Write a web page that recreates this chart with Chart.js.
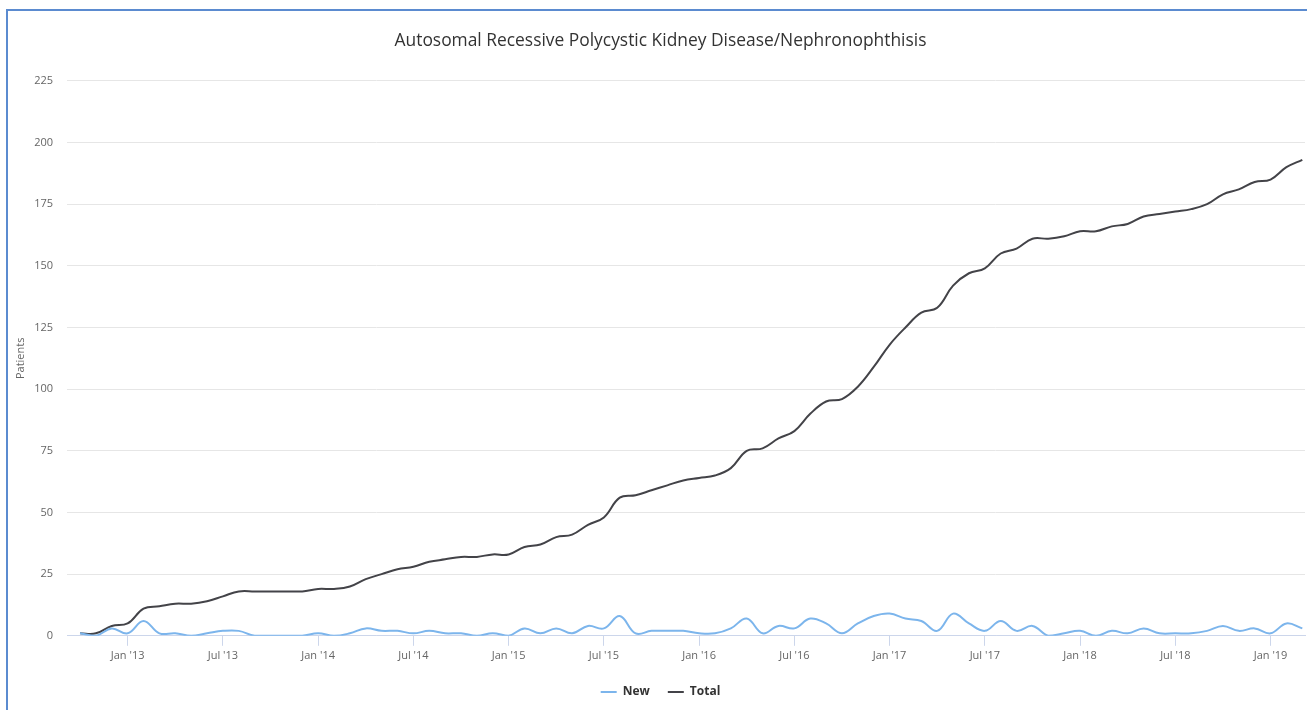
<!DOCTYPE html>
<html>
<head>
<meta charset="utf-8">
<script src="https://cdn.jsdelivr.net/npm/chart.js@4/dist/chart.umd.min.js"></script>
<style>
  html, body { margin: 0; padding: 0; background: #fff; }
  #wrap { position: relative; width: 1307px; height: 710px; }
  #frame {
    position: absolute; left: 6px; top: 9px; right: 0; bottom: 0;
    border-left: 2px solid #5b8bd0; border-top: 2px solid #5b8bd0;
    pointer-events: none;
  }
</style>
</head>
<body>
<div id="wrap">
  <canvas id="myChart" width="1307" height="710"></canvas>
  <div id="frame"></div>
</div>
<script>
// monthly counts, Oct 2012 .. Mar 2019 (index 0 = Oct 2012)
const newPatients = [
  1, 0, 3, 1, 6, 1, 1, 0, 1, 2,
  2, 0, 0, 0, 0, 1, 0, 1, 3, 2,
  2, 1, 2, 1, 1, 0, 1, 0, 3, 1,
  3, 1, 4, 3, 8, 1, 2, 2, 2, 1,
  1, 3, 7, 1, 4, 3, 7, 5, 1, 5,
  8, 9, 7, 6, 2, 9, 5, 2, 6, 2,
  4, 0, 1, 2, 0, 2, 1, 3, 1, 1,
  1, 2, 4, 2, 3, 1, 5, 3
];
const totalPatients = [
  1, 1, 4, 5, 11, 12, 13, 13, 14, 16,
  18, 18, 18, 18, 18, 19, 19, 20, 23, 25,
  27, 28, 30, 31, 32, 32, 33, 33, 36, 37,
  40, 41, 45, 48, 56, 57, 59, 61, 63, 64,
  65, 68, 75, 76, 80, 83, 90, 95, 96, 101,
  109, 118, 125, 131, 133, 142, 147, 149, 155, 157,
  161, 161, 162, 164, 164, 166, 167, 170, 171, 172,
  173, 175, 179, 181, 184, 185, 190, 193
];
const tickMonths = [3, 9, 15, 21, 27, 33, 39, 45, 51, 57, 63, 69, 75];
const tickLabels = ["Jan '13", "Jul '13", "Jan '14", "Jul '14", "Jan '15", "Jul '15",
  "Jan '16", "Jul '16", "Jan '17", "Jul '17", "Jan '18", "Jul '18", "Jan '19"];

Chart.defaults.font.family = "'Open Sans', sans-serif";
Chart.defaults.color = "#666";

const toPoints = arr => arr.map((v, i) => ({ x: i, y: v }));

const data = {
  datasets: [
    {
      label: "New",
      data: toPoints(newPatients),
      borderColor: "#7cb5ec",
      backgroundColor: "#7cb5ec",
      borderWidth: 2,
      pointRadius: 0,
      tension: 0.4,
      fill: false
    },
    {
      label: "Total",
      data: toPoints(totalPatients),
      borderColor: "#434348",
      backgroundColor: "#434348",
      borderWidth: 2,
      pointRadius: 0,
      tension: 0.4,
      fill: false
    }
  ]
};

const config = {
  type: "line",
  data,
  options: {
    responsive: false,
    animation: false,
    // extra left padding shifts the centred title and legend like in the original
    layout: { padding: { left: 16, right: 2, top: 0, bottom: 2 } },
    plugins: {
      title: {
        display: true,
        text: "Autosomal Recessive Polycystic Kidney Disease/Nephronophthisis",
        color: "#333",
        font: { size: 17.4, weight: "normal" },
        padding: { top: 31, bottom: 29 }
      },
      legend: {
        position: "bottom",
        labels: {
          color: "#333",
          font: { size: 12, weight: "bold" },
          usePointStyle: true,
          pointStyle: "line",
          pointStyleWidth: 16,
          padding: 18
        }
      },
      tooltip: { enabled: false }
    },
    scales: {
      x: {
        type: "linear",
        min: -0.82,
        max: 77.17,
        afterBuildTicks: function (axis) {
          axis.ticks = tickMonths.map(v => ({ value: v }));
        },
        afterFit: function (axis) {
          axis.height += 3;
        },
        ticks: {
          autoSkip: false,
          maxRotation: 0,
          padding: 3,
          font: { size: 11 },
          callback: function (val, idx) {
            return tickLabels[idx];
          }
        },
        grid: {
          drawOnChartArea: false,
          tickLength: 10,
          color: "#ccd6eb"
        },
        border: { color: "#ccd6eb" }
      },
      y: {
        min: 0,
        max: 225,
        ticks: {
          stepSize: 25,
          padding: 14,
          font: { size: 11 }
        },
        grid: { color: "#e6e6e6", drawTicks: false },
        border: { display: false },
        title: {
          display: true,
          text: "Patients",
          font: { size: 11 },
          padding: { top: -2, bottom: 0 }
        },
        afterFit: function (axis) {
          axis.width = 51;
        }
      }
    }
  }
};

const ctx = document.getElementById("myChart").getContext("2d");
new Chart(ctx, config);
</script>
</body>
</html>
